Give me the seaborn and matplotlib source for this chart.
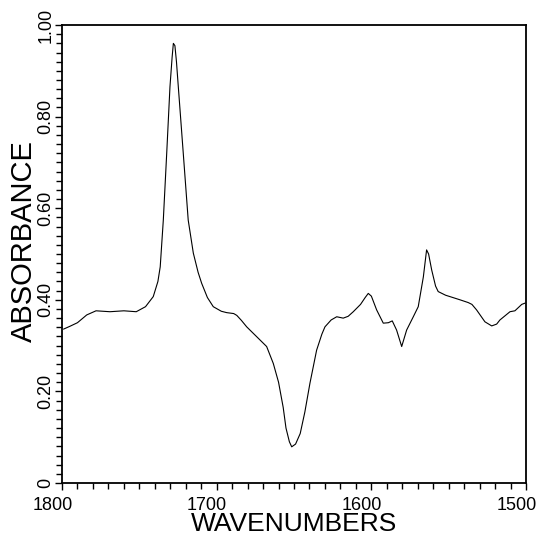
import matplotlib
matplotlib.use("Agg")
import matplotlib.pyplot as plt
from matplotlib.ticker import MultipleLocator
from matplotlib.transforms import ScaledTranslation
import seaborn as sns
import pandas as pd

# spettro (numero d'onda, assorbanza)
wavenumber = [1799, 1795, 1790, 1784, 1778, 1769, 1760, 1752, 1746, 1741,
              1738, 1736.5, 1734.5, 1732.3, 1730.2, 1728.8, 1728, 1727, 1726, 1724.8,
              1721.6, 1718.4, 1715.1, 1712, 1709.7, 1706, 1702.2, 1697, 1693.5, 1689,
              1687, 1684, 1680.6, 1675.2, 1667.7, 1663.4, 1660, 1657, 1655.2, 1653,
              1651.5, 1649, 1646, 1643, 1639.7, 1635.4, 1632, 1630, 1626, 1622.4,
              1618.2, 1615, 1611.7, 1607, 1604, 1602, 1600, 1596.6, 1592.3, 1589,
              1586.5, 1583.7, 1580.4, 1577.2, 1572.9, 1569.7, 1566.4, 1564.3, 1563, 1561,
              1558.5, 1556.8, 1552, 1549.2, 1542.7, 1537.4, 1535, 1532, 1526.6, 1522.2,
              1519, 1516.9, 1510.4, 1507.2, 1502.8, 1500.5]
absorbance = [0.336, 0.342, 0.350, 0.367, 0.376, 0.374, 0.376, 0.374, 0.385, 0.407,
              0.440, 0.472, 0.574, 0.720, 0.865, 0.930, 0.960, 0.955, 0.920, 0.865,
              0.720, 0.574, 0.502, 0.460, 0.436, 0.405, 0.385, 0.375, 0.372, 0.370,
              0.366, 0.355, 0.341, 0.323, 0.298, 0.261, 0.220, 0.165, 0.120, 0.090,
              0.079, 0.085, 0.108, 0.155, 0.218, 0.290, 0.325, 0.341, 0.356, 0.363,
              0.360, 0.364, 0.374, 0.390, 0.405, 0.414, 0.408, 0.378, 0.349, 0.350,
              0.354, 0.334, 0.298, 0.334, 0.363, 0.385, 0.450, 0.509, 0.500, 0.465,
              0.430, 0.418, 0.410, 0.407, 0.400, 0.394, 0.390, 0.378, 0.352, 0.343,
              0.347, 0.356, 0.374, 0.376, 0.390, 0.393]

x_ticks = [1800, 1700, 1600, 1500]
y_ticks = [0, 0.2, 0.4, 0.6, 0.8, 1.0]
y_tick_labels = ["0", "0.20", "0.40", "0.60", "0.80", "1.00"]

df = pd.DataFrame({"wn": wavenumber, "abs": absorbance})

sns.set_style("ticks")
plt.rcParams['font.family'] = ['Liberation Sans', 'DejaVu Sans']
plt.rcParams['text.color'] = 'black'
plt.rcParams['axes.labelcolor'] = 'black'
plt.rcParams['xtick.color'] = 'black'
plt.rcParams['ytick.color'] = 'black'

fig = plt.figure(figsize=(5.39, 5.35), dpi=100)
ax = fig.add_axes([0.115, 0.0972, 0.861, 0.856])
sns.lineplot(data=df, x="wn", y="abs", ax=ax, color="black", linewidth=0.8,
             estimator=None, sort=False)

ax.set_xlim(1800, 1500)
ax.set_ylim(0, 1.0)
ax.set_xticks(x_ticks)
ax.set_xticklabels([str(t) for t in x_ticks])
ax.set_yticks(y_ticks)
ax.set_yticklabels(y_tick_labels, rotation=90, va="center")
ax.xaxis.set_minor_locator(MultipleLocator(10))
ax.yaxis.set_minor_locator(MultipleLocator(0.02))
ax.tick_params(axis="both", which="both", direction="out", top=False, right=False,
               color="black", width=1.0)
ax.tick_params(axis="both", which="major", length=5, labelsize=13)
ax.tick_params(axis="x", which="major", pad=5)
ax.tick_params(axis="y", which="major", pad=0.5)
ax.tick_params(axis="both", which="minor", length=4)
for s in ax.spines.values():
    s.set_linewidth(1.3)
    s.set_color("black")

ax.set_xlabel("WAVENUMBERS", fontsize=19, labelpad=-1.5)
ax.set_ylabel("ABSORBANCE", fontsize=21)
ax.yaxis.set_label_coords(-0.052, 0.528)

# etichette dell'asse x spostate un po' a sinistra come nell'originale
shift = ScaledTranslation(-0.095, 0, fig.dpi_scale_trans)
for t in ax.xaxis.get_major_ticks():
    t.label1.set_transform(t.label1.get_transform() + shift)

fig.savefig("out.png", dpi=100)
plt.close()
